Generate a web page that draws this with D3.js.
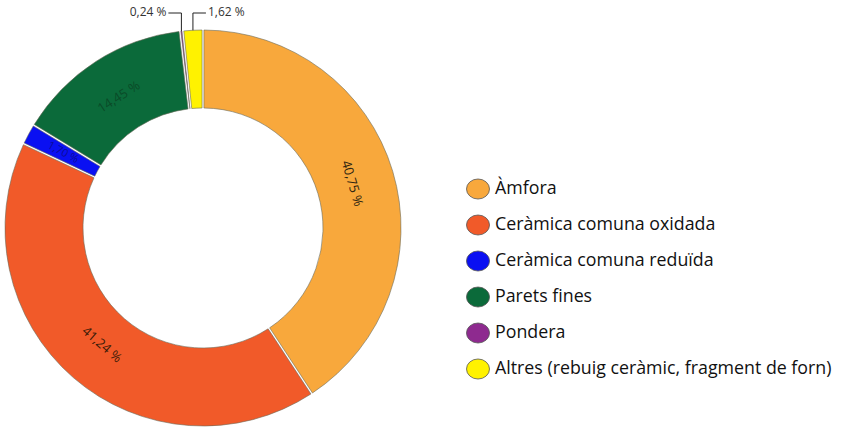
<!DOCTYPE html>
<html>
<head>
<meta charset="utf-8">
<script src="https://cdn.jsdelivr.net/npm/d3@7"></script>
<style>
  body { margin: 0; background: #fff; }
  text { font-family: "Open Sans", "Noto Sans", sans-serif; }
</style>
</head>
<body>
<div id="chart"></div>
<script>
let w = 841;
let h = 427;

// data
let categories = ["Àmfora", "Ceràmica comuna oxidada", "Ceràmica comuna reduïda", "Parets fines", "Pondera", "Altres (rebuig ceràmic, fragment de forn)"];
let values = [40.75, 41.24, 1.70, 14.45, 0.24, 1.62];
let sliceLabels = ["40,75 %", "41,24 %", "1,70 %", "14,45 %", "0,24 %", "1,62 %"];
let colors = ["#F8A83C", "#F15A29", "#0A10F2", "#0B6A3A", "#8E2A8F", "#FFF200"];
let labelColors = ["#2e2410", "#3a1a08", "#0c0c9a", "#0a4a28", null, null];

let cx = 203, cy = 228;
let outerR = 198, innerR = 120, labelR = 155;

let svg = d3.select("#chart")
  .append("svg")
  .attr("width", w)
  .attr("height", h)
  .style("background-color", "#fff");

let data = categories.map((c, i) => ({ name: c, value: values[i], label: sliceLabels[i], color: colors[i], lc: labelColors[i] }));

let pie = d3.pie().sort(null).value(d => d.value);
let arcs = pie(data);

let arc = d3.arc().innerRadius(innerR).outerRadius(outerR).padAngle(0.008);

let g = svg.append("g").attr("transform", `translate(${cx},${cy})`);

g.selectAll(".slice").data(arcs).enter()
  .append("path")
  .attr("class", "slice")
  .attr("d", arc)
  .attr("fill", d => d.data.color)
  .attr("stroke", "#6b6b5a")
  .attr("stroke-width", 0.6);

// labels inside the ring: along the ring, or radial for a thin slice
let inside = arcs.filter(d => d.data.lc);
g.selectAll(".slabel").data(inside).enter()
  .append("text")
  .attr("class", "slabel")
  .attr("transform", function(d) {
    let a = (d.startAngle + d.endAngle) / 2;
    let thin = (d.endAngle - d.startAngle) < 0.2;
    let r = thin ? (innerR + outerR) / 2 : labelR;
    let x = r * Math.sin(a);
    let y = -r * Math.cos(a);
    let deg = a * 180 / Math.PI;
    if (thin) deg = deg - 90;
    if (deg > 90 && deg < 270) deg = deg - 180;
    if (deg >= 270) deg = deg - 360;
    return `translate(${x},${y}) rotate(${deg})`;
  })
  .attr("text-anchor", "middle")
  .attr("dominant-baseline", "middle")
  .attr("font-size", d => (d.endAngle - d.startAngle) < 0.2 ? 11 : 13)
  .attr("fill", d => d.data.lc)
  .text(d => d.data.label);

// small slices get outside labels with leader lines
let small = arcs.filter(d => !d.data.lc);
let topY = -cy + 13;
small.forEach(function(d, i) {
  let a = (d.startAngle + d.endAngle) / 2;
  let x0 = outerR * Math.sin(a);
  let y0 = -outerR * Math.cos(a);
  let dir = i === 0 ? -1 : 1;
  let x1 = x0 + dir * 5;
  g.append("path")
    .attr("d", `M${x0},${y0} L${x0},${topY} L${x1 + dir * 8},${topY}`)
    .attr("fill", "none")
    .attr("stroke", "#222")
    .attr("stroke-width", 1);
  g.append("text")
    .attr("x", x1 + dir * 10)
    .attr("y", topY)
    .attr("text-anchor", dir < 0 ? "end" : "start")
    .attr("dominant-baseline", "middle")
    .attr("font-size", 12)
    .attr("fill", "#333")
    .text(d.data.label);
});

// legend
let legendY = d3.scalePoint().domain(categories).range([189, 369]);
let legend = svg.selectAll(".legend").data(data).enter()
  .append("g")
  .attr("class", "legend")
  .attr("transform", d => `translate(478,${legendY(d.name)})`);

legend.append("ellipse")
  .attr("rx", 11.5)
  .attr("ry", 10)
  .attr("fill", d => d.color)
  .attr("stroke", "#555")
  .attr("stroke-width", 0.8);

legend.append("text")
  .attr("x", 17)
  .attr("y", 0)
  .attr("dominant-baseline", "middle")
  .attr("font-size", 17.8)
  .attr("fill", "#111")
  .text(d => d.name);
</script>
</body>
</html>
